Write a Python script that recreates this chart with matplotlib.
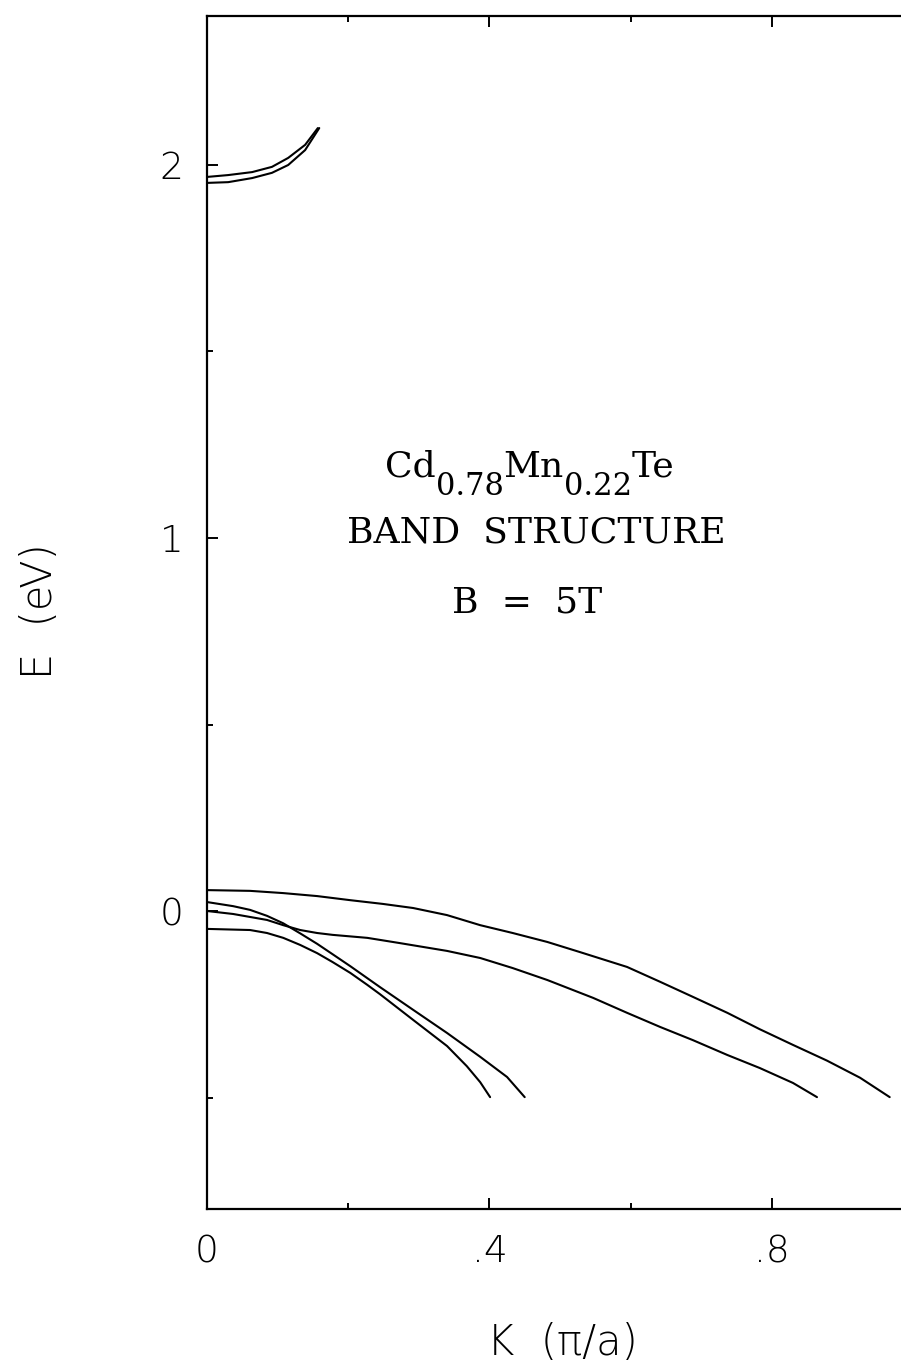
import matplotlib
matplotlib.use("Agg")
import matplotlib.pyplot as plt
from matplotlib.ticker import FixedLocator
from matplotlib.transforms import offset_copy

# conduction band (two spin-split branches near 2 eV)
k_c1 = [0.0, 0.030, 0.064, 0.092, 0.115, 0.139, 0.157]
e_c1 = [1.968, 1.973, 1.981, 1.995, 2.019, 2.054, 2.099]
k_c2 = [0.0, 0.030, 0.064, 0.092, 0.115, 0.139, 0.159]
e_c2 = [1.952, 1.954, 1.965, 1.979, 2.000, 2.040, 2.099]

# valence bands
k_v1 = [0.0, 0.061, 0.108, 0.156, 0.203, 0.249, 0.292, 0.340, 0.387, 0.433, 0.482,
        0.528, 0.595, 0.642, 0.688, 0.737, 0.783, 0.830, 0.878, 0.925, 0.967]
e_v1 = [0.056, 0.054, 0.048, 0.040, 0.029, 0.019, 0.008, -0.011, -0.038, -0.059, -0.083,
        -0.110, -0.150, -0.190, -0.230, -0.273, -0.317, -0.359, -0.401, -0.447, -0.499]
k_v2 = [0.0, 0.037, 0.085, 0.108, 0.132, 0.156, 0.178, 0.227, 0.273, 0.340, 0.387,
        0.433, 0.482, 0.547, 0.595, 0.642, 0.688, 0.737, 0.783, 0.830, 0.864]
e_v2 = [0.0, -0.008, -0.024, -0.038, -0.051, -0.059, -0.064, -0.072, -0.086, -0.107, -0.126,
        -0.153, -0.185, -0.233, -0.273, -0.311, -0.346, -0.386, -0.421, -0.461, -0.499]
k_v3 = [0.0, 0.037, 0.061, 0.085, 0.108, 0.132, 0.156, 0.178, 0.203, 0.227, 0.245,
        0.292, 0.340, 0.387, 0.425, 0.450]
e_v3 = [0.024, 0.013, 0.003, -0.013, -0.033, -0.060, -0.088, -0.116, -0.148, -0.180, -0.204,
        -0.265, -0.327, -0.391, -0.445, -0.499]
k_v4 = [0.0, 0.061, 0.085, 0.108, 0.132, 0.156, 0.178, 0.203, 0.227, 0.245, 0.292,
        0.340, 0.368, 0.387, 0.401]
e_v4 = [-0.048, -0.051, -0.059, -0.072, -0.091, -0.113, -0.137, -0.166, -0.198, -0.223, -0.292,
        -0.362, -0.416, -0.459, -0.499]

x_ticks = [0.0, 0.4, 0.8]
x_ticklabels = ["0", ".4", ".8"]
y_ticks = [0, 1, 2]
y_ticklabels = ["0", "1", "2"]

fig = plt.figure(figsize=(9.01, 13.68), dpi=100)
ax = fig.add_axes([207 / 901, (1368 - 1209.4) / 1368, 706 / 901, 3.2 * 373 / 1368])

for kk, ee in [(k_c1, e_c1), (k_c2, e_c2), (k_v1, e_v1), (k_v2, e_v2), (k_v3, e_v3), (k_v4, e_v4)]:
    ax.plot(kk, ee, color="black", lw=1.5, solid_joinstyle="round", solid_capstyle="round")

ax.set_xlim(0, 1.0)
ax.set_ylim(-0.8, 2.4)

ax.xaxis.set_major_locator(FixedLocator(x_ticks))
ax.set_xticklabels(x_ticklabels)
ax.xaxis.set_minor_locator(FixedLocator([0.2, 0.6]))
ax.yaxis.set_major_locator(FixedLocator(y_ticks))
ax.set_yticklabels(y_ticklabels)
ax.yaxis.set_minor_locator(FixedLocator([-0.5, 0.5, 1.5]))

ax.tick_params(which="both", direction="in", top=True, right=True, width=1.4,
               labelsize=27, colors="black")
ax.tick_params(which="major", length=8)
ax.tick_params(which="minor", length=4)
ax.tick_params(axis="y", pad=17)
ax.tick_params(axis="x", pad=18)
for lab in ax.get_xticklabels() + ax.get_yticklabels():
    lab.set_fontweight("light")

for sp in ax.spines.values():
    sp.set_linewidth(1.6)

ax.set_xlabel("K  (π/a)", fontsize=30, fontweight="light")
ax.set_ylabel("E  (eV)", fontsize=30, fontweight="light")
ax.xaxis.set_label_coords(0.504, -0.094)
ax.yaxis.set_label_coords(-0.208, 0.501)

# formula with lowered subscripts, laid out piece by piece
renderer = fig.canvas.get_renderer()
pieces = [("Cd", 26, 0), ("0.78", 22, -13), ("Mn", 26, 0), ("0.22", 22, -13), ("Te", 26, 0)]
widths = []
for s, fs, _ in pieces:
    t = ax.text(0, 0, s, family="DejaVu Serif", fontsize=fs)
    widths.append(t.get_window_extent(renderer).width * 72 / fig.dpi)
    t.remove()
x_off = -sum(widths) / 2
for (s, fs, dy), w in zip(pieces, widths):
    tr = offset_copy(ax.transData, fig=fig, x=x_off, y=dy, units="points")
    ax.text(0.4575, 1.164, s, family="DejaVu Serif", fontsize=fs,
            ha="left", va="baseline", transform=tr)
    x_off += w

title_font = dict(family="DejaVu Serif", fontsize=26, ha="center", va="baseline")
ax.text(0.466, 0.987, "BAND  STRUCTURE", **title_font)
ax.text(0.453, 0.799, "B  =  5T", **title_font)

fig.savefig("out.png", dpi=100)
